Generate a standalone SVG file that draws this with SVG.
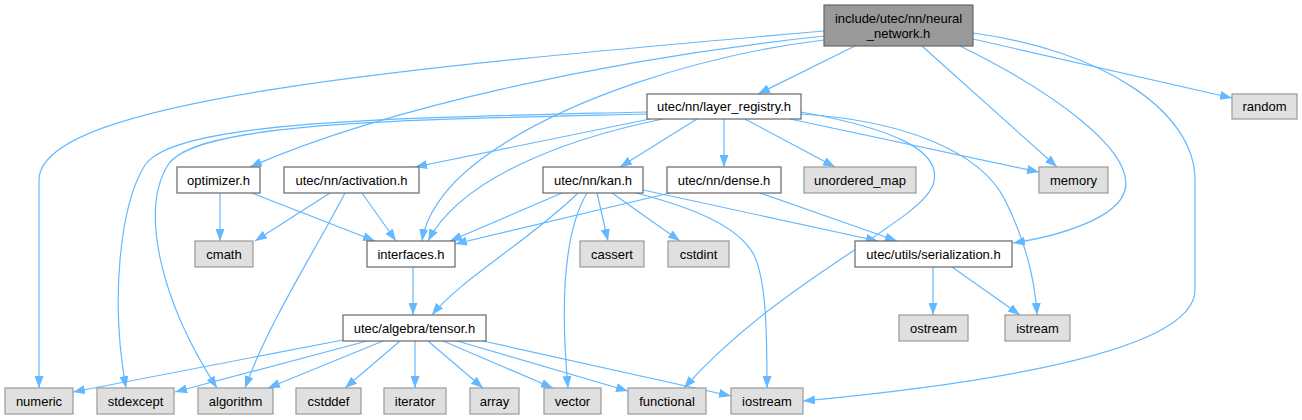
<svg xmlns="http://www.w3.org/2000/svg" width="1302" height="420" viewBox="0 0 1302 420">
<defs>
<marker id="ah" markerUnits="userSpaceOnUse" markerWidth="12" markerHeight="9" refX="12" refY="4.5" orient="auto">
<path d="M0,0 L12,4.5 L0,9 z" fill="#63b8ff"/>
</marker>
<style>
.e path{fill:none;stroke:#63b8ff;stroke-width:1.2;marker-end:url(#ah)}
.n rect{fill:#ffffff;stroke:#666666;stroke-width:1.2}
.x rect{fill:#e0e0e0;stroke:#999999;stroke-width:1.2}
.r rect{fill:#999999;stroke:#666666;stroke-width:1.2}
text{font-family:"Liberation Sans",Arial,Helvetica,sans-serif;font-size:13px;fill:#000;text-anchor:middle}
</style>
</defs>
<rect width="1302" height="420" fill="#ffffff"/>
<g id="edges" class="e">
<path d="M855,46 L758,94"/>
<path d="M922,46 L1057,167"/>
<path d="M973,39 L1232,98"/>
<path d="M973,33 C1100,50 1195,110 1195,180 L1195,290 C1195,360 920,390 803,401"/>
<path d="M960,46 C1050,90 1135,150 1125,190 C1118,218 1060,236 1013,243"/>
<path d="M824,40 C700,55 560,100 480,160 C440,190 425,220 422,241"/>
<path d="M824,36 C600,60 380,110 250,167"/>
<path d="M824,31 C400,68 40,100 39,180 L39,388"/>
<path d="M647,112 C400,118 175,120 145,165 C120,205 110,300 126,388"/>
<path d="M647,114 C400,120 195,122 168,165 C140,210 160,300 217,388"/>
<path d="M650,119 L415,167"/>
<path d="M663,119 C560,140 460,180 428,241"/>
<path d="M697,119 L620,167"/>
<path d="M724,119 L724,167"/>
<path d="M745,119 L835,167"/>
<path d="M790,119 L1039,172"/>
<path d="M801,112 C890,128 945,150 933,185 C920,222 780,280 684,388"/>
<path d="M801,114 C900,120 980,150 1005,200 C1025,240 1035,280 1037,315"/>
<path d="M220,193 L220,241"/>
<path d="M252,193 L375,241"/>
<path d="M330,193 L255,241"/>
<path d="M362,193 L396,241"/>
<path d="M345,193 C310,260 270,320 245,388"/>
<path d="M562,193 L450,241"/>
<path d="M578,193 C530,240 460,280 432,315"/>
<path d="M587,193 C565,230 560,300 568,388"/>
<path d="M597,193 L608,241"/>
<path d="M612,193 L680,241"/>
<path d="M636,193 C690,207 738,225 754,255 C766,280 767,330 767,388"/>
<path d="M643,190 L878,241"/>
<path d="M670,193 L455,244"/>
<path d="M760,193 L897,241"/>
<path d="M933,267 L933,315"/>
<path d="M952,267 L1020,315"/>
<path d="M413,267 L413,315"/>
<path d="M343,340 L73,392"/>
<path d="M367,341 L175,392"/>
<path d="M383,341 L268,388"/>
<path d="M400,341 L345,388"/>
<path d="M415,341 L415,388"/>
<path d="M428,341 L483,388"/>
<path d="M443,341 L553,388"/>
<path d="M457,341 L628,391"/>
<path d="M483,341 L731,396"/>
</g>
<g id="neural_network" class="r"><rect x="824" y="5" width="149" height="41"/><text x="898.5" y="23">include/utec/nn/neural</text><text x="898.5" y="38">_network.h</text></g>
<g id="layer_registry" class="n"><rect x="647" y="94" width="154" height="25"/><text x="724" y="111">utec/nn/layer_registry.h</text></g>
<g id="random" class="x"><rect x="1232" y="94" width="65" height="25"/><text x="1264.5" y="111">random</text></g>
<g id="optimizer" class="n"><rect x="177" y="167" width="83" height="26"/><text x="218.5" y="184.5">optimizer.h</text></g>
<g id="activation" class="n"><rect x="284" y="167" width="135" height="26"/><text x="351.5" y="184.5">utec/nn/activation.h</text></g>
<g id="kan" class="n"><rect x="543" y="167" width="100" height="26"/><text x="593" y="184.5">utec/nn/kan.h</text></g>
<g id="dense" class="n"><rect x="667" y="167" width="114" height="26"/><text x="724" y="184.5">utec/nn/dense.h</text></g>
<g id="unordered_map" class="x"><rect x="804" y="167" width="112" height="26"/><text x="860" y="184.5">unordered_map</text></g>
<g id="memory" class="x"><rect x="1039" y="167" width="69" height="26"/><text x="1073.5" y="184.5">memory</text></g>
<g id="cmath" class="x"><rect x="195" y="241" width="58" height="26"/><text x="224" y="258.5">cmath</text></g>
<g id="interfaces" class="n"><rect x="367" y="241" width="88" height="26"/><text x="411" y="258.5">interfaces.h</text></g>
<g id="cassert" class="x"><rect x="580" y="241" width="64" height="26"/><text x="612" y="258.5">cassert</text></g>
<g id="cstdint" class="x"><rect x="668" y="241" width="61" height="26"/><text x="698.5" y="258.5">cstdint</text></g>
<g id="serialization" class="n"><rect x="855" y="241" width="157" height="26"/><text x="933.5" y="258.5">utec/utils/serialization.h</text></g>
<g id="tensor" class="n"><rect x="343" y="315" width="143" height="26"/><text x="414.5" y="332.5">utec/algebra/tensor.h</text></g>
<g id="ostream" class="x"><rect x="899" y="315" width="69" height="26"/><text x="933.5" y="332.5">ostream</text></g>
<g id="istream" class="x"><rect x="1005" y="315" width="65" height="26"/><text x="1037.5" y="332.5">istream</text></g>
<g id="numeric" class="x"><rect x="5" y="388" width="68" height="26"/><text x="39" y="405.5">numeric</text></g>
<g id="stdexcept" class="x"><rect x="97" y="388" width="77" height="26"/><text x="135.5" y="405.5">stdexcept</text></g>
<g id="algorithm" class="x"><rect x="198" y="388" width="75" height="26"/><text x="235.5" y="405.5">algorithm</text></g>
<g id="cstddef" class="x"><rect x="296" y="388" width="65" height="26"/><text x="328.5" y="405.5">cstddef</text></g>
<g id="iterator" class="x"><rect x="384" y="388" width="62" height="26"/><text x="415" y="405.5">iterator</text></g>
<g id="array" class="x"><rect x="470" y="388" width="49" height="26"/><text x="494.5" y="405.5">array</text></g>
<g id="vector" class="x"><rect x="544" y="388" width="57" height="26"/><text x="572.5" y="405.5">vector</text></g>
<g id="functional" class="x"><rect x="628" y="388" width="78" height="26"/><text x="667" y="405.5">functional</text></g>
<g id="iostream" class="x"><rect x="731" y="388" width="72" height="26"/><text x="767" y="405.5">iostream</text></g>
</svg>
